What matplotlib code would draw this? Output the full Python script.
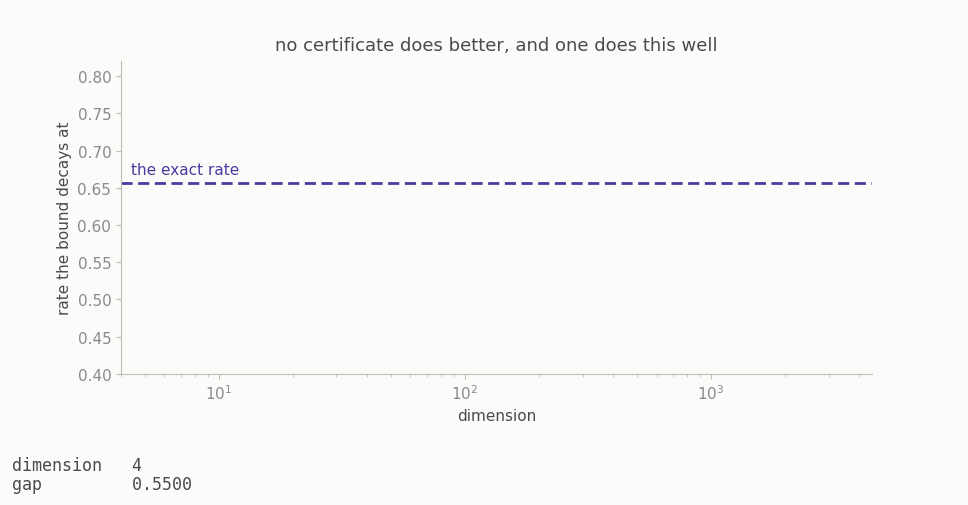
import matplotlib
matplotlib.use("Agg")
import matplotlib.pyplot as plt

# data
x_limits = [4, 4500]
y_limits = [0.40, 0.82]
y_ticks = [0.40, 0.45, 0.50, 0.55, 0.60, 0.65, 0.70, 0.75, 0.80]
exact_rate = 0.657
info_labels = ["dimension", "gap"]
info_values = ["4", "0.5500"]

bg = "#fbfbf9"
ink = "#4a4a4a"
tick_grey = "#8a8a8a"
spine_grey = "#bdbdb4"
purple = "#4b3aa0"

plt.rcParams["font.family"] = ["DejaVu Sans"]

fig = plt.figure(figsize=(9.68, 5.06), dpi=100, facecolor=bg)
ax = fig.add_axes([0.125, 0.259, 0.7758, 0.618], facecolor=bg)

ax.set_xscale("log")
ax.set_xlim(*x_limits)
ax.set_ylim(*y_limits)
ax.set_yticks(y_ticks)
ax.set_yticklabels([f"{t:.2f}" for t in y_ticks])

ax.axhline(exact_rate, color=purple, lw=2, ls=(0, (4, 2)))
ax.text(4.4, exact_rate + 0.008, "the exact rate", color=purple, fontsize=11,
        va="bottom", ha="left")

for s in ["top", "right"]:
    ax.spines[s].set_visible(False)
for s in ["left", "bottom"]:
    ax.spines[s].set_color(spine_grey)
ax.tick_params(colors=spine_grey, labelcolor=tick_grey, labelsize=11)
ax.tick_params(which="minor", colors=spine_grey)

ax.set_title("no certificate does better, and one does this well",
             color=ink, fontsize=13, pad=8)
ax.set_xlabel("dimension", color=ink, fontsize=11)
ax.set_ylabel("rate the bound decays at", color=ink, fontsize=11)

for i, (lab, val) in enumerate(zip(info_labels, info_values)):
    fig.text(12 / 968, 1 - (457 + 19 * i) / 506, f"{lab:<12}{val}",
             family="DejaVu Sans Mono", fontsize=12, color=ink,
             va="top", ha="left")

fig.savefig("out.png", dpi=100, facecolor=bg)
